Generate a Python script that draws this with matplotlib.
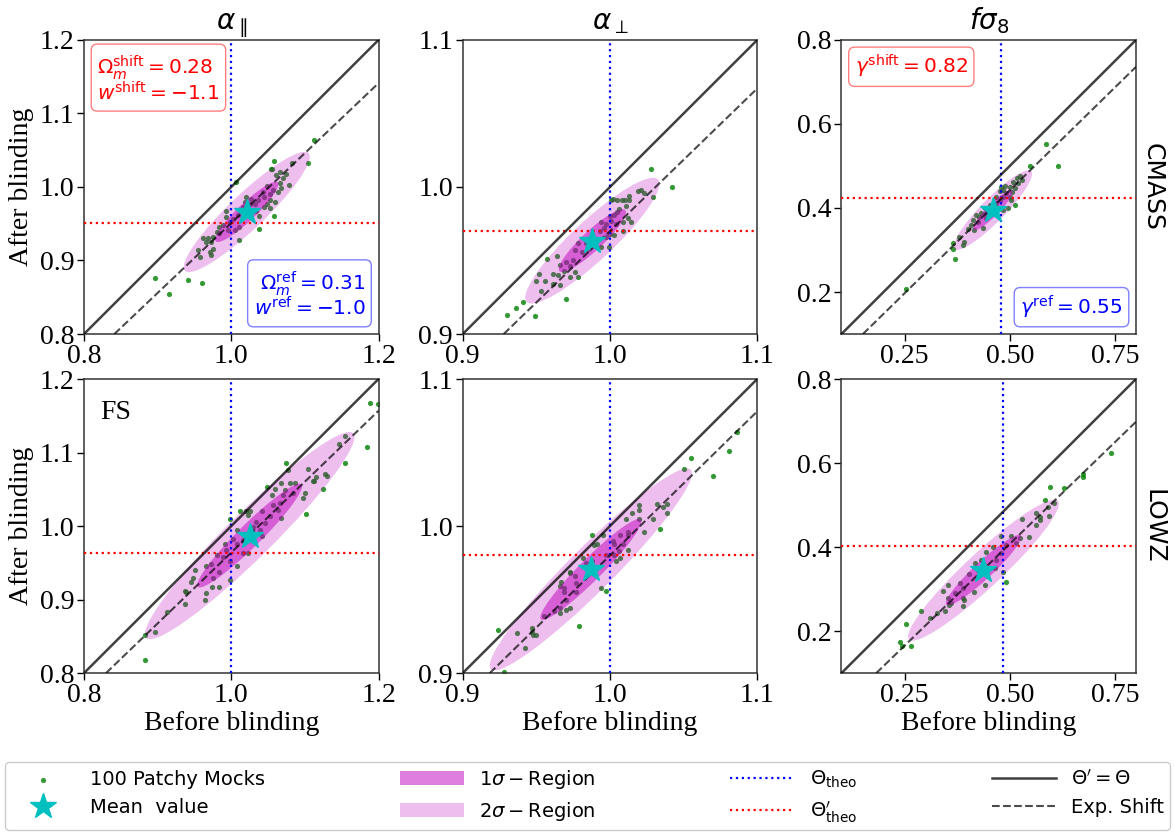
import matplotlib
matplotlib.use("Agg")
import matplotlib.pyplot as plt
from matplotlib.patches import Ellipse
import numpy as np

plt.rcParams['font.family'] = ['Liberation Serif', 'DejaVu Serif']
plt.rcParams['mathtext.fontset'] = 'dejavusans'

# ---------------- data ----------------
col_titles = [r'$\alpha_{\parallel}$', r'$\alpha_{\perp}$', r'$f\sigma_8$']
row_labels = ['CMASS', 'LOWZ']
x_limits = [(0.8, 1.2), (0.9, 1.1), (0.1, 0.8)]
x_ticks = [[0.8, 1.0, 1.2], [0.9, 1.0, 1.1], [0.25, 0.50, 0.75]]
y_ticks = [[0.8, 0.9, 1.0, 1.1, 1.2], [0.9, 1.0, 1.1], [0.2, 0.4, 0.6, 0.8]]
x_ticklabels = [['0.8', '1.0', '1.2'], ['0.9', '1.0', '1.1'], ['0.25', '0.50', '0.75']]
y_ticklabels = [['0.8', '0.9', '1.0', '1.1', '1.2'], ['0.9', '1.0', '1.1'], ['0.2', '0.4', '0.6', '0.8']]

# CMASS alpha_par
cmass_apar_before = [1.058, 1.083, 1.054, 1.066, 1.075, 1.061, 1.070, 1.078, 1.066, 1.068, 1.063, 1.057,
                     1.052, 1.045, 1.052, 1.059, 1.053, 1.045, 1.032, 1.025, 1.018, 1.016, 1.034, 1.038,
                     1.007, 0.993, 0.993, 1.002, 1.011, 1.005, 0.996, 0.989, 1.058, 1.038, 1.011, 0.980,
                     0.984, 0.975, 0.968, 0.962, 0.966, 0.973, 0.975, 0.971, 0.973, 0.957, 0.955, 1.113,
                     1.104, 0.897, 0.916, 0.941, 0.960, 1.027, 1.043, 1.036, 1.048, 1.020, 0.998, 0.984,
                     1.020, 1.009, 1.048, 1.056]
cmass_apar_after = [1.036, 1.033, 1.025, 1.021, 1.018, 1.016, 1.012, 1.003, 1.005, 0.998, 0.993, 0.996,
                    0.991, 0.987, 0.982, 0.980, 0.971, 0.973, 0.977, 0.977, 0.980, 0.973, 0.968, 0.961,
                    1.007, 0.968, 0.959, 0.957, 0.946, 0.941, 0.941, 0.948, 0.961, 0.943, 0.928, 0.939,
                    0.937, 0.932, 0.930, 0.931, 0.925, 0.925, 0.916, 0.912, 0.907, 0.905, 0.914, 1.064,
                    1.033, 0.876, 0.855, 0.873, 0.869, 0.984, 0.993, 0.982, 1.002, 0.968, 0.952, 0.946,
                    0.987, 0.962, 0.977, 1.024]

# CMASS alpha_perp
cmass_aper_before = [1.028, 1.042, 1.029, 1.021, 1.023, 1.019, 1.013, 1.013, 1.010, 1.008, 1.005, 1.002,
                     1.001, 1.011, 1.006, 1.003, 1.000, 1.012, 1.014, 1.009, 1.004, 0.997, 0.994, 0.996,
                     1.000, 1.003, 1.009, 0.997, 0.993, 0.991, 0.999, 0.994, 0.984, 0.978, 0.976, 0.981,
                     0.975, 0.970, 0.973, 0.966, 0.969, 0.965, 0.973, 0.976, 0.978, 0.964, 0.957, 0.952,
                     0.950, 0.956, 0.961, 0.966, 0.961, 0.953, 0.970, 0.941, 0.936, 0.930, 0.949, 1.005,
                     1.001, 0.990, 0.986]
cmass_aper_after = [1.012, 1.000, 0.993, 0.998, 0.996, 0.997, 0.994, 0.991, 0.991, 0.991, 0.991, 0.992,
                    0.991, 0.987, 0.985, 0.981, 0.980, 0.979, 0.976, 0.976, 0.975, 0.975, 0.976, 0.972,
                    0.968, 0.967, 0.970, 0.966, 0.970, 0.964, 0.959, 0.959, 0.962, 0.962, 0.957, 0.956,
                    0.950, 0.949, 0.946, 0.947, 0.943, 0.940, 0.939, 0.942, 0.939, 0.953, 0.951, 0.941,
                    0.936, 0.936, 0.941, 0.933, 0.934, 0.929, 0.924, 0.922, 0.918, 0.913, 0.912, 0.983,
                    0.977, 0.962, 0.958]

# CMASS f sigma8
cmass_fs8_before = [0.587, 0.615, 0.548, 0.524, 0.516, 0.528, 0.508, 0.520, 0.500, 0.488, 0.512, 0.506,
                    0.492, 0.484, 0.500, 0.504, 0.476, 0.468, 0.512, 0.496, 0.484, 0.468, 0.452, 0.440,
                    0.444, 0.460, 0.432, 0.428, 0.444, 0.424, 0.436, 0.408, 0.416, 0.400, 0.380, 0.392,
                    0.388, 0.364, 0.366, 0.370, 0.254, 0.484, 0.476, 0.468, 0.480, 0.420, 0.412]
cmass_fs8_after = [0.552, 0.500, 0.500, 0.477, 0.471, 0.467, 0.463, 0.459, 0.451, 0.452, 0.447, 0.437,
                   0.435, 0.427, 0.427, 0.419, 0.419, 0.427, 0.407, 0.399, 0.395, 0.403, 0.407, 0.399,
                   0.387, 0.391, 0.387, 0.379, 0.375, 0.367, 0.352, 0.360, 0.348, 0.349, 0.332, 0.320,
                   0.312, 0.316, 0.302, 0.279, 0.206, 0.443, 0.440, 0.411, 0.451, 0.383, 0.371]

# LOWZ alpha_par
lowz_apar_before = [1.188, 1.199, 1.184, 1.154, 1.147, 1.155, 1.074, 1.077, 1.104, 1.115, 1.113, 1.127,
                    1.130, 1.111, 1.124, 1.101, 1.097, 1.100, 1.087, 1.080, 1.068, 1.049, 1.059, 1.073,
                    1.070, 1.066, 1.057, 1.063, 1.067, 1.052, 1.042, 1.023, 1.012, 1.020, 1.026, 1.039,
                    1.042, 1.030, 0.998, 1.008, 1.003, 1.008, 1.016, 1.023, 1.016, 0.993, 0.989, 0.980,
                    0.998, 1.008, 0.998, 0.984, 0.975, 0.984, 0.974, 0.966, 0.951, 0.948, 0.945, 0.964,
                    0.937, 0.938, 0.937, 0.913, 0.896, 0.883, 0.883, 0.966, 0.991, 1.055, 1.084, 1.046,
                    1.034, 0.973]
lowz_apar_after = [1.168, 1.166, 1.108, 1.122, 1.112, 1.086, 1.086, 1.076, 1.078, 1.067, 1.061, 1.071,
                   1.068, 1.061, 1.051, 1.017, 1.038, 1.045, 1.058, 1.058, 1.059, 1.053, 1.051, 1.049,
                   1.042, 1.031, 1.029, 1.022, 1.011, 1.013, 1.020, 1.015, 1.020, 1.020, 1.020, 0.995,
                   0.987, 0.999, 1.010, 0.995, 0.983, 0.976, 0.981, 0.964, 0.963, 0.967, 0.958, 0.961,
                   0.952, 0.946, 0.926, 0.938, 0.929, 0.917, 0.917, 0.909, 0.940, 0.929, 0.924, 0.900,
                   0.912, 0.910, 0.894, 0.883, 0.856, 0.852, 0.818, 0.945, 0.976, 1.042, 1.045, 1.004,
                   1.006, 0.949]

# LOWZ alpha_perp
lowz_aper_before = [1.086, 1.081, 1.070, 1.055, 1.050, 1.039, 1.039, 1.036, 1.032, 1.029, 1.034, 1.023,
                    1.020, 1.020, 1.015, 1.011, 1.020, 1.012, 1.012, 1.007, 1.002, 1.003, 1.009, 1.012,
                    1.006, 1.004, 1.007, 1.003, 0.995, 0.988, 0.989, 0.991, 0.982, 0.984, 0.988, 0.997,
                    0.973, 0.973, 0.976, 0.977, 0.967, 0.966, 0.969, 0.969, 0.977, 0.970, 0.973, 0.970,
                    0.966, 0.962, 0.966, 0.955, 0.994, 0.997, 0.979, 0.947, 0.947, 0.950, 0.948, 0.937,
                    0.942, 0.924, 0.928]
lowz_aper_after = [1.064, 1.051, 1.034, 1.046, 1.039, 1.015, 1.009, 1.013, 1.015, 1.005, 0.998, 0.996,
                   1.014, 1.011, 1.009, 1.005, 1.005, 0.996, 0.994, 0.994, 0.990, 0.988, 0.988, 0.984,
                   0.983, 0.976, 0.978, 0.980, 0.994, 0.994, 0.987, 0.988, 0.978, 0.975, 0.976, 0.980,
                   0.969, 0.968, 0.966, 0.961, 0.962, 0.959, 0.958, 0.955, 0.955, 0.950, 0.944, 0.943,
                   0.944, 0.942, 0.941, 0.939, 0.958, 0.956, 0.932, 0.931, 0.928, 0.926, 0.926, 0.927,
                   0.917, 0.929, 0.901]

# LOWZ f sigma8
lowz_fs8_before = [0.741, 0.674, 0.674, 0.628, 0.595, 0.583, 0.604, 0.590, 0.594, 0.571, 0.572, 0.562,
                   0.562, 0.530, 0.546, 0.525, 0.504, 0.480, 0.514, 0.492, 0.478, 0.460, 0.444, 0.468,
                   0.466, 0.442, 0.484, 0.492, 0.417, 0.424, 0.404, 0.414, 0.382, 0.388, 0.354, 0.342,
                   0.352, 0.360, 0.356, 0.388, 0.392, 0.389, 0.370, 0.346, 0.328, 0.310, 0.290, 0.254,
                   0.240, 0.245, 0.266, 0.444, 0.432]
lowz_fs8_after = [0.625, 0.573, 0.567, 0.540, 0.542, 0.512, 0.504, 0.496, 0.474, 0.472, 0.464, 0.480,
                  0.452, 0.466, 0.425, 0.421, 0.427, 0.427, 0.409, 0.405, 0.385, 0.401, 0.389, 0.369,
                  0.351, 0.310, 0.341, 0.317, 0.361, 0.345, 0.337, 0.292, 0.315, 0.302, 0.310, 0.295,
                  0.278, 0.266, 0.262, 0.278, 0.274, 0.260, 0.291, 0.248, 0.242, 0.230, 0.248, 0.217,
                  0.175, 0.164, 0.164, 0.345, 0.369]

before_data = [cmass_apar_before, cmass_aper_before, cmass_fs8_before,
               lowz_apar_before, lowz_aper_before, lowz_fs8_before]
after_data = [cmass_apar_after, cmass_aper_after, cmass_fs8_after,
              lowz_apar_after, lowz_aper_after, lowz_fs8_after]

# mean values (before, after)
mean_before = [1.021, 0.988, 0.460, 1.025, 0.987, 0.4375]
mean_after = [0.966, 0.9635, 0.395, 0.987, 0.9705, 0.345]

# 1-sigma ellipse semi-axes and orientation (deg)
ell_major = [0.058, 0.0305, 0.065, 0.099, 0.048, 0.121]
ell_minor = [0.012, 0.0068, 0.014, 0.0155, 0.0075, 0.021]
ell_angle = [43.6, 43.0, 45.6, 44.7, 45.0, 43.0]

# theoretical values (reference, shifted)
theta_theo = [1.0, 1.0, 0.480, 1.0, 1.0, 0.484]
theta_shift = [0.951, 0.970, 0.423, 0.964, 0.980, 0.403]

# expected shift line (slope, intercept)
shift_slope = [0.951, 0.970, 0.980, 0.964, 0.980, 0.969]
shift_intercept = [0.0, 0.0, -0.048, 0.0, 0.0, -0.077]

# ---------------- figure ----------------
fig, axes = plt.subplots(2, 3, figsize=(11.75, 8.32), dpi=100)
fig.subplots_adjust(left=0.0715, right=0.9668, top=0.952, bottom=0.191,
                    wspace=0.286, hspace=0.153)

handles = {}
for i, ax in enumerate(axes.flat):
    r, c = divmod(i, 3)
    lo, hi = x_limits[c]
    sc = ax.scatter(before_data[i], after_data[i], s=14, color='g', alpha=0.8,
                    linewidths=0, zorder=1, label='100 Patchy Mocks')
    e2 = Ellipse((mean_before[i], mean_after[i]), 4 * ell_major[i], 4 * ell_minor[i],
                 angle=ell_angle[i], facecolor='m', alpha=0.25, edgecolor='none',
                 zorder=2, label=r'$2\sigma - \mathrm{Region}$')
    e1 = Ellipse((mean_before[i], mean_after[i]), 2 * ell_major[i], 2 * ell_minor[i],
                 angle=ell_angle[i], facecolor='m', alpha=0.5, edgecolor='none',
                 zorder=2, label=r'$1\sigma - \mathrm{Region}$')
    ax.add_patch(e2)
    ax.add_patch(e1)
    lb = ax.axvline(theta_theo[i], color='b', ls=':', lw=1.6, zorder=3,
                    label=r'$\Theta_{\rm theo}$')
    lr = ax.axhline(theta_shift[i], color='r', ls=':', lw=1.6, zorder=3,
                    label=r"$\Theta^{\prime}_{\rm theo}$")
    ls = ax.axline((0, 0), slope=1, color='k', alpha=0.75, lw=1.8, zorder=3,
                   label=r"$\Theta^{\prime} = \Theta$")
    ld = ax.axline((0, shift_intercept[i]), slope=shift_slope[i], color='k', alpha=0.7,
                   lw=1.5, ls='--', zorder=3, label='Exp. Shift')
    st, = ax.plot([mean_before[i]], [mean_after[i]], marker='*', color='c', ms=19,
                  ls='none', zorder=5, label='Mean  value')
    if i == 0:
        handles = [sc, st, e1, e2, lb, lr, ls, ld]

    ax.set_xlim(lo, hi)
    ax.set_ylim(lo, hi)
    ax.set_xticks(x_ticks[c])
    ax.set_xticklabels(x_ticklabels[c])
    ax.set_yticks(y_ticks[c])
    ax.set_yticklabels(y_ticklabels[c])
    ax.tick_params(labelsize=20, direction='out', length=5, width=1,
                   top=False, right=False, pad=2)
    for sp in ax.spines.values():
        sp.set_color('#333333')
        sp.set_linewidth(1.1)
    if r == 0:
        ax.set_title(col_titles[c], fontsize=20, pad=8)
    if r == 1:
        ax.set_xlabel('Before blinding', fontsize=20, labelpad=2)
    if c == 0:
        ax.set_ylabel('After blinding', fontsize=20, labelpad=4)
    if c == 2:
        ax.text(1.058, 0.5, row_labels[r], transform=ax.transAxes, rotation=-90,
                ha='center', va='center', fontsize=18, family='DejaVu Sans')

red_box = dict(boxstyle='round,pad=0.3', facecolor='white', edgecolor='r', alpha=0.5)
blue_box = dict(boxstyle='round,pad=0.3', facecolor='white', edgecolor='b', alpha=0.5)

axes[0, 0].text(0.045, 0.955, '$\\Omega_m^{\\rm shift} = 0.28$\n$w^{\\rm shift} = -1.1$',
                transform=axes[0, 0].transAxes, color='r', fontsize=14.5,
                ha='left', va='top', bbox=red_box, linespacing=1.0)
axes[0, 0].text(0.955, 0.045, '$\\Omega_m^{\\rm ref} = 0.31$\n$w^{\\rm ref} = -1.0$',
                transform=axes[0, 0].transAxes, color='b', fontsize=14.5,
                ha='right', va='bottom', multialignment='right', bbox=blue_box,
                linespacing=1.0)
axes[0, 2].text(0.045, 0.955, '$\\gamma^{\\rm shift} = 0.82$',
                transform=axes[0, 2].transAxes, color='r', fontsize=14.5,
                ha='left', va='top', bbox=red_box)
axes[0, 2].text(0.955, 0.045, '$\\gamma^{\\rm ref} = 0.55$',
                transform=axes[0, 2].transAxes, color='b', fontsize=14.5,
                ha='right', va='bottom', bbox=blue_box)
axes[1, 0].text(0.055, 0.93, 'FS', transform=axes[1, 0].transAxes, fontsize=20,
                ha='left', va='top')

fig.legend(handles, [h.get_label() for h in handles], ncol=4, loc='lower left',
           bbox_to_anchor=(0.004, 0.002, 0.992, 0.073), mode='expand',
           prop={'family': 'DejaVu Sans', 'size': 14}, handlelength=3.3,
           borderaxespad=0, borderpad=0.3, fancybox=True, framealpha=1,
           edgecolor='#cccccc', labelspacing=0.45)

fig.savefig('out.png', dpi=100)
